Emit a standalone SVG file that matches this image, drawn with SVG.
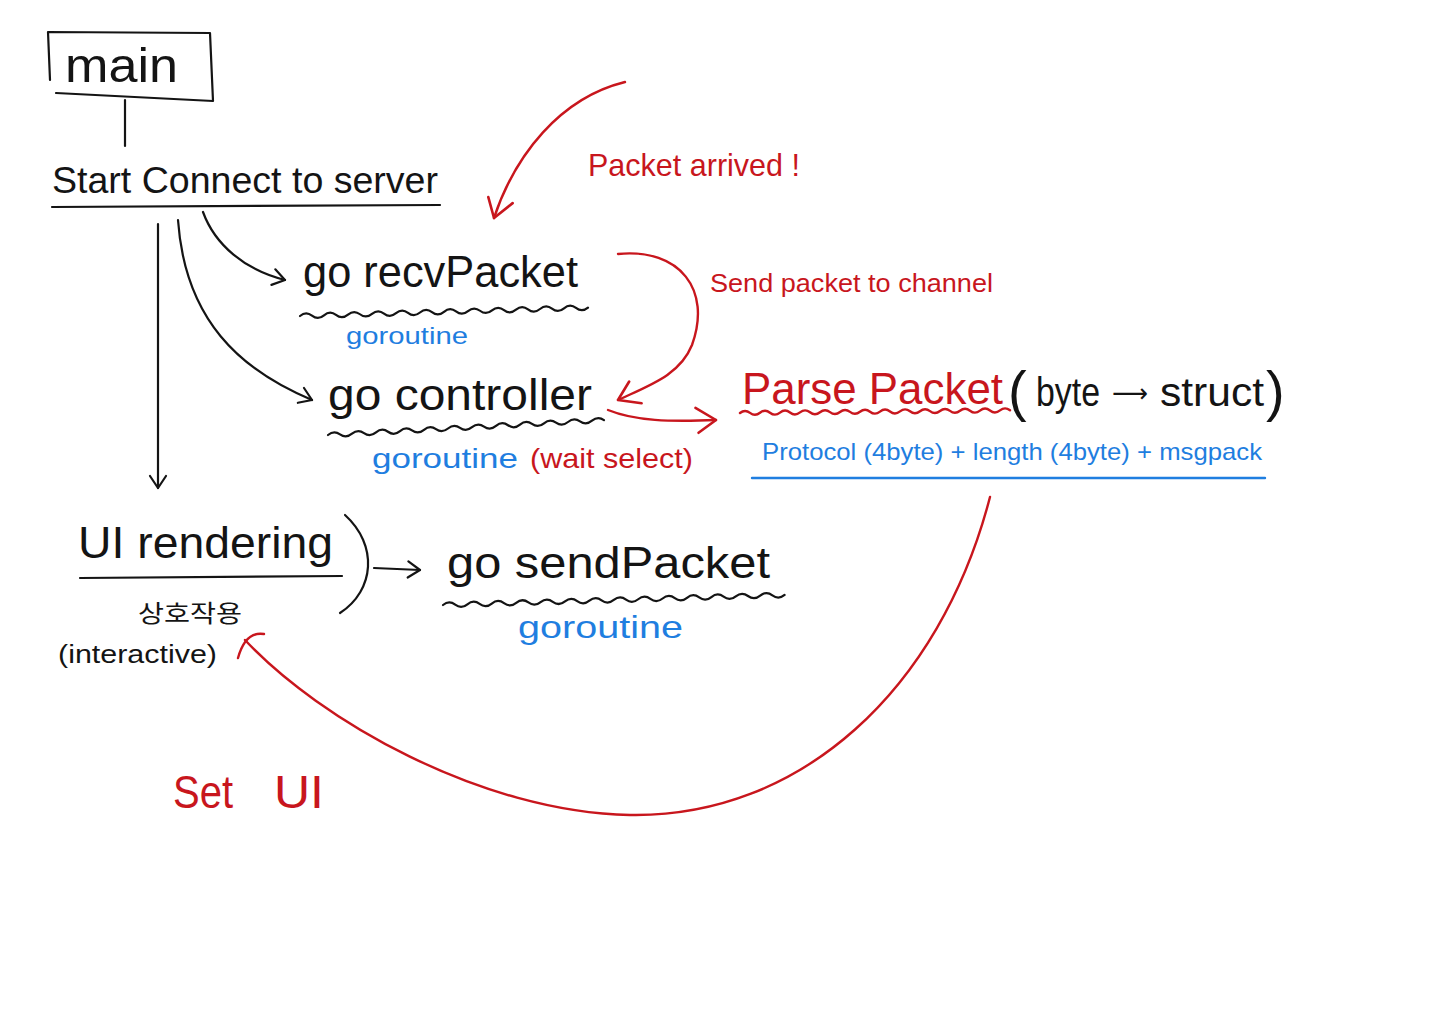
<svg xmlns="http://www.w3.org/2000/svg" width="1440" height="1018" viewBox="0 0 1440 1018">
<defs>
<style>
.t{font-family:"Liberation Sans","Noto Sans CJK KR",sans-serif;}
.k{fill:#141414;}
.r{fill:#c8161d;}
.b{fill:#1f7ee0;}
.lk{fill:none;stroke:#141414;stroke-width:2.2;stroke-linecap:round;stroke-linejoin:round;}
.lr{fill:none;stroke:#c8161d;stroke-width:2.4;stroke-linecap:round;stroke-linejoin:round;}
.lb{fill:none;stroke:#1f7ee0;stroke-width:2.4;stroke-linecap:round;}
</style>
<marker id="ak" viewBox="-14 -10 16 20" markerWidth="16" markerHeight="20" refX="0" refY="0" orient="auto" markerUnits="userSpaceOnUse">
<path d="M-12,-8 L0,0 L-12,8" fill="none" stroke="#141414" stroke-width="2.2" stroke-linecap="round" stroke-linejoin="round"/>
</marker>
<marker id="ar" viewBox="-24 -16 26 32" markerWidth="26" markerHeight="32" refX="0" refY="0" orient="auto" markerUnits="userSpaceOnUse">
<path d="M-20,-13 L0,0 L-18,12" fill="none" stroke="#c8161d" stroke-width="2.6" stroke-linecap="round" stroke-linejoin="round"/>
</marker>
</defs>
<rect width="1440" height="1018" fill="#ffffff"/>

<g id="connectors">
<path class="lk" d="M125,100 L125,146"/>
<path class="lk" d="M158,224 L158,488" marker-end="url(#ak)"/>
<path class="lk" d="M203,212 C215,245 245,270 285,280" marker-end="url(#ak)"/>
<path class="lk" d="M178,220 C185,320 240,370 312,400" marker-end="url(#ak)"/>
<path class="lk" d="M345,515 C378,545 375,590 340,613"/>
<path class="lk" d="M374,568 L420,570" marker-end="url(#ak)"/>
<path class="lr" d="M625,82 C560,98 515,155 494,218" marker-end="url(#ar)"/>
<path class="lr" d="M618,254 C680,248 712,290 692,345 C680,375 650,385 618,400" marker-end="url(#ar)"/>
<path class="lr" d="M608,410 C635,421 670,422 716,420" marker-end="url(#ar)"/>
<path class="lr" d="M990,497 C940,690 800,818 630,815 C480,812 320,720 245,640"/>
<path class="lr" d="M264,634 C252,632 243,640 238,658"/>
</g>

<g id="main">
<path class="lk" d="M50,80 L48,32 L210,33 L213,101 L56,93"/>
<text class="t k" x="65" y="82" font-size="48" textLength="113" lengthAdjust="spacingAndGlyphs">main</text>
</g>

<g id="start-connect">
<text class="t k" x="52" y="193" font-size="36" textLength="386" lengthAdjust="spacingAndGlyphs">Start Connect to server</text>
<path class="lk" d="M52,207 L440,205"/>
</g>

<g id="recv-packet">
<text class="t k" x="303" y="287" font-size="44" textLength="275" lengthAdjust="spacingAndGlyphs">go recvPacket</text>
<path class="lk" d="M300,316 q6,-5 12,-0.35 t12,-0.35 t12,-0.35 t12,-0.35 t12,-0.35 t12,-0.35 t12,-0.35 t12,-0.35 t12,-0.35 t12,-0.35 t12,-0.35 t12,-0.35 t12,-0.35 t12,-0.35 t12,-0.35 t12,-0.35 t12,-0.35 t12,-0.35 t12,-0.35 t12,-0.35 t12,-0.35 t12,-0.35 t12,-0.35 t12,-0.35"/>
<text class="t b" x="346" y="344" font-size="24" textLength="122" lengthAdjust="spacingAndGlyphs">goroutine</text>
</g>

<g id="controller">
<text class="t k" x="328" y="410" font-size="44" textLength="264" lengthAdjust="spacingAndGlyphs">go controller</text>
<path class="lk" d="M328,435 q6,-5 12,-0.65 t12,-0.65 t12,-0.65 t12,-0.65 t12,-0.65 t12,-0.65 t12,-0.65 t12,-0.65 t12,-0.65 t12,-0.65 t12,-0.65 t12,-0.65 t12,-0.65 t12,-0.65 t12,-0.65 t12,-0.65 t12,-0.65 t12,-0.65 t12,-0.65 t12,-0.65 t12,-0.65 t12,-0.65 t12,-0.65"/>
<text class="t b" x="372" y="468" font-size="28" textLength="146" lengthAdjust="spacingAndGlyphs">goroutine</text>
<text class="t r" x="530" y="468" font-size="28" textLength="163" lengthAdjust="spacingAndGlyphs">(wait select)</text>
</g>

<g id="ui-rendering">
<text class="t k" x="78" y="558" font-size="44" textLength="255" lengthAdjust="spacingAndGlyphs">UI rendering</text>
<path class="lk" d="M80,578 L342,576"/>
<text class="t k" x="138" y="622" font-size="24" textLength="104" lengthAdjust="spacingAndGlyphs">상호작용</text>
<text class="t k" x="58" y="663" font-size="26" textLength="159" lengthAdjust="spacingAndGlyphs">(interactive)</text>
</g>

<g id="send-packet">
<text class="t k" x="447" y="578" font-size="44" textLength="323" lengthAdjust="spacingAndGlyphs">go sendPacket</text>
<path class="lk" d="M443,605 q6.1,-5 12.2,-0.36 t12.2,-0.36 t12.2,-0.36 t12.2,-0.36 t12.2,-0.36 t12.2,-0.36 t12.2,-0.36 t12.2,-0.36 t12.2,-0.36 t12.2,-0.36 t12.2,-0.36 t12.2,-0.36 t12.2,-0.36 t12.2,-0.36 t12.2,-0.36 t12.2,-0.36 t12.2,-0.36 t12.2,-0.36 t12.2,-0.36 t12.2,-0.36 t12.2,-0.36 t12.2,-0.36 t12.2,-0.36 t12.2,-0.36 t12.2,-0.36 t12.2,-0.36 t12.2,-0.36 t12.2,-0.36"/>
<text class="t b" x="518" y="638" font-size="32" textLength="165" lengthAdjust="spacingAndGlyphs">goroutine</text>
</g>

<g id="parse-packet">
<text class="t r" x="742" y="404" font-size="44" textLength="261" lengthAdjust="spacingAndGlyphs">Parse Packet</text>
<path class="lr" d="M740,413 q5,-4 10,-0.1 t10,-0.1 t10,-0.1 t10,-0.1 t10,-0.1 t10,-0.1 t10,-0.1 t10,-0.1 t10,-0.1 t10,-0.1 t10,-0.1 t10,-0.1 t10,-0.1 t10,-0.1 t10,-0.1 t10,-0.1 t10,-0.1 t10,-0.1 t10,-0.1 t10,-0.1 t10,-0.1 t10,-0.1 t10,-0.1 t10,-0.1 t10,-0.1 t10,-0.1 t10,-0.1"/>
<text class="t k" y="406" font-size="40"><tspan x="1008" font-size="56" dy="4">(</tspan><tspan x="1036" dy="-4" textLength="64" lengthAdjust="spacingAndGlyphs">byte</tspan><tspan x="1112" font-family="DejaVu Sans, sans-serif" font-size="26" dy="-4" textLength="36" lengthAdjust="spacingAndGlyphs">⟶</tspan><tspan x="1160" dy="4" textLength="104" lengthAdjust="spacingAndGlyphs">struct</tspan><tspan x="1266" font-size="56" dy="4">)</tspan></text>
<text class="t b" x="762" y="460" font-size="24" textLength="500" lengthAdjust="spacingAndGlyphs">Protocol (4byte) + length (4byte) + msgpack</text>
<path class="lb" d="M752,478 L1265,478"/>
</g>

<g id="labels">
<text class="t r" x="588" y="176" font-size="32" textLength="212" lengthAdjust="spacingAndGlyphs">Packet arrived !</text>
<text class="t r" x="710" y="292" font-size="26" textLength="283" lengthAdjust="spacingAndGlyphs">Send packet to channel</text>
<text class="t r" y="808" font-size="46"><tspan x="173" textLength="60" lengthAdjust="spacingAndGlyphs">Set</tspan><tspan x="274" textLength="50" lengthAdjust="spacingAndGlyphs">UI</tspan></text>
</g>
</svg>
